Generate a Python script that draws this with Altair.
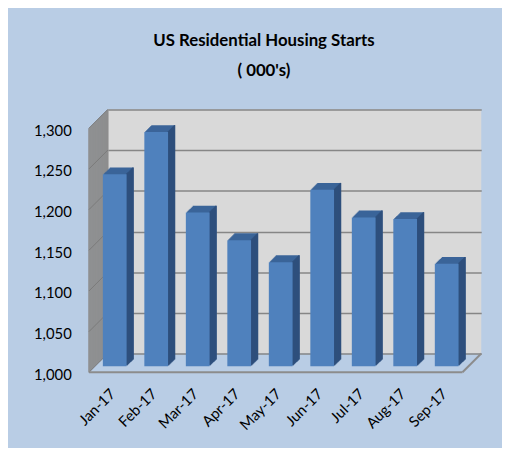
import altair as alt
import pandas as pd

months = ["Jan-17", "Feb-17", "Mar-17", "Apr-17", "May-17", "Jun-17", "Jul-17", "Aug-17", "Sep-17"]
starts = [1236, 1288, 1189, 1155, 1128, 1217, 1183, 1181, 1126]
y_ticks = [1000, 1050, 1100, 1150, 1200, 1250, 1300]
title_lines = ["US Residential Housing Starts", "( 000's)"]

df = pd.DataFrame({"month": months, "starts": starts})
one = pd.DataFrame({"k": [0]})
grid_df = pd.DataFrame({"v": y_ticks})

W, H = 378, 247
DEPTH = 19
FONT = "Lato"

yscale = alt.Scale(domain=[1000, 1300], zero=False, nice=False)
xscale = alt.Scale(paddingInner=0, paddingOuter=0)

yaxis = alt.Axis(title=None, values=y_ticks, labelExpr="format(datum.value, ',')",
                 offset=DEPTH, labelPadding=18,
                 labelOffset=21, ticks=False, domain=False, grid=True,
                 gridColor="#868686", gridWidth=1.5,
                 labelFont=FONT, labelFontSize=15, labelColor="#000000")
xaxis = alt.Axis(title=None, labelAngle=-45, labelAlign="right", labelBaseline="middle",
                 offset=DEPTH, labelPadding=19, labelOffset=-16, ticks=False, domain=False,
                 labelFont=FONT, labelFontSize=15, labelColor="#000000")

xenc = alt.X("month:N", sort=months, scale=xscale, axis=xaxis)


def yq(field):
    return alt.Y(field, type="quantitative", scale=yscale, axis=yaxis)


def yd(v):
    return alt.datum(v, type="quantitative", scale=yscale, axis=yaxis)


layers = []

# left side wall (stack of offset vertical rules)
for i in range(0, DEPTH + 1):
    layers.append(
        alt.Chart(one).mark_rule(color="#8c8c8c", strokeWidth=1.5, xOffset=-i, yOffset=i, y2Offset=i)
        .encode(x=alt.value(0), y=yd(1300), y2=alt.datum(1000))
    )

# gridline diagonals on the side wall
layers.append(
    alt.Chart(grid_df).mark_rule(color="#7a7a7a", strokeWidth=1, x2Offset=-DEPTH, y2Offset=DEPTH)
    .encode(x=alt.value(0), x2=alt.value(0), y=yq("v"), y2="v:Q")
)

# floor outline: front edge and right diagonal
layers.append(
    alt.Chart(one).mark_rule(color="#8c8c8c", strokeWidth=2, xOffset=-DEPTH, x2Offset=-DEPTH,
                             yOffset=DEPTH, y2Offset=DEPTH)
    .encode(x=alt.value(0), x2=alt.value(W), y=yd(1000), y2=alt.datum(1000))
)
layers.append(
    alt.Chart(one).mark_rule(color="#8c8c8c", strokeWidth=2, x2Offset=-DEPTH, y2Offset=DEPTH)
    .encode(x=alt.value(W), x2=alt.value(W), y=yd(1000), y2=alt.datum(1000))
)

BX, BY, BD, BW = -14, 13, 7, 24
TOP_C, SIDE_C, FRONT_C = "#3b6499", "#2e4f7c", "#4f81bd"

# top face extrusion
for i in range(BD, 0, -1):
    layers.append(
        alt.Chart(df).mark_bar(width=BW, color=TOP_C, xOffset=BX + i, yOffset=BY - i, y2Offset=BY - i)
        .encode(x=xenc, y=yq("starts"), y2=alt.datum(1000))
    )
# side face
for i in range(1, BD + 1):
    layers.append(
        alt.Chart(df).mark_rule(color=SIDE_C, strokeWidth=1.6,
                                xOffset=BX + BW / 2 + i - 0.5, yOffset=BY - i, y2Offset=BY - i)
        .encode(x=xenc, y=yq("starts"), y2=alt.datum(1000))
    )

# front face
layers.append(
    alt.Chart(df).mark_bar(width=BW, color=FRONT_C, xOffset=BX, yOffset=BY, y2Offset=BY)
    .encode(x=xenc, y=yq("starts"), y2=alt.datum(1000))
)

chart = alt.layer(*layers).properties(
    width=W, height=H,
    autosize=alt.AutoSizeParams(type="none"),
    padding={"left": 101, "top": 100, "right": 21, "bottom": 93},
    title=alt.TitleParams(text=title_lines, anchor="middle", dx=-31, offset=29, font=FONT,
                          fontSize=17, fontWeight="bold", lineHeight=30, color="#000000"),
).configure(background="#b9cde5").configure_view(fill="#d9d9d9", stroke=None)

chart.save("out.html", embed_options={"renderer": "svg", "actions": False})
